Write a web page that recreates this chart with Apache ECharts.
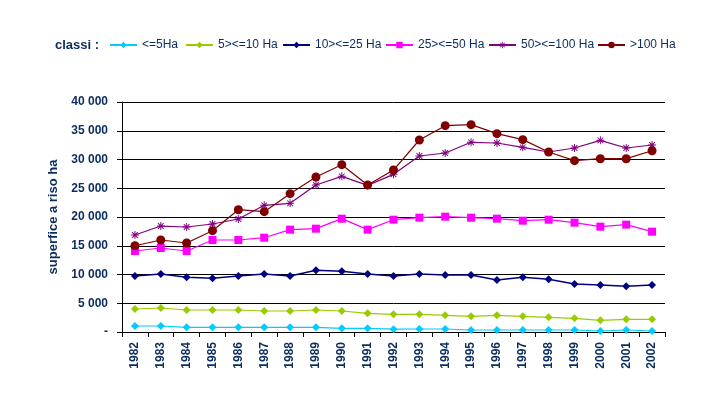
<!DOCTYPE html>
<html><head><meta charset="utf-8">
<script src="https://cdn.jsdelivr.net/npm/echarts@6/dist/echarts.min.js"></script>
<style>html,body{margin:0;padding:0;background:#fff}#c{width:707px;height:400px}</style>
</head><body><div id="c"></div>
<script>
const years = ['1982','1983','1984','1985','1986','1987','1988','1989','1990','1991','1992','1993','1994','1995','1996','1997','1998','1999','2000','2001','2002'];
const seriesNames = ['<=5Ha','5><=10 Ha','10><=25 Ha','25><=50 Ha','50><=100 Ha','>100 Ha'];
const s1 = [1040,1040,810,810,810,810,810,810,640,640,500,520,520,350,350,350,350,350,170,350,170];
const s2 = [4000,4170,3830,3830,3830,3650,3650,3830,3650,3250,3070,3070,2900,2720,2900,2720,2550,2380,2030,2200,2200];
const s3 = [9740,10090,9510,9340,9740,10090,9740,10730,10550,10090,9740,10090,9910,9910,9040,9510,9160,8350,8170,7940,8170];
const s4 = [14090,14610,14090,16000,16000,16400,17800,17970,19710,17800,19530,19880,20060,19880,19710,19360,19530,19010,18320,18670,17450];
const s5 = [16870,18430,18260,18780,19650,22030,22380,25570,27070,25500,27420,30610,31130,32990,32870,32120,31300,32000,33330,32000,32520];
const s6 = [15000,16000,15480,17620,21270,20930,24060,26960,29100,25570,28170,33390,35880,36060,34490,33450,31300,29800,30140,30140,31530];
const yTitle = 'superfice a riso ha';
const legendTitle = 'classi :';

const values = [s1,s2,s3,s4,s5,s6];
const colors = ['#00CCFF','#99CC00','#000080','#FF00FF','#800080','#800000'];
const star = 'path://M-0.6,-5 L0.6,-5 L0.6,5 L-0.6,5 Z M-5,-0.6 L5,-0.6 L5,0.6 L-5,0.6 Z M-3.1,-3.95 L3.95,3.1 L3.1,3.95 L-3.95,-3.1 Z M3.1,-3.95 L3.95,-3.1 L-3.1,3.95 L-3.95,3.1 Z';
const symbols = ['diamond','diamond','diamond','rect','path','circle'];
const sizes = [8,8,8,8,8,9];
const legendLefts = [109,185,282,385,488,597];
const navy = '#0A2C5E';

const series = values.map((v,i)=>({
  name: seriesNames[i], type:'line', data: v,
  symbol: symbols[i]==='path'?star:symbols[i], symbolSize: sizes[i], showAllSymbol:true,
  lineStyle:{color:colors[i], width: i===2?1.5:1.2},
  itemStyle:{color:colors[i]},
  animation:false
}));

const legends = seriesNames.map((n,i)=>({
  data:[n], left: legendLefts[i], top: 39, padding:0, itemWidth: 27, itemHeight: 8, itemGap: 2,
  textStyle:{color:navy, fontFamily:'Liberation Sans, Arial', fontSize:12}
}));

const chart = echarts.init(document.getElementById('c'));
chart.setOption({
  backgroundColor:'#fff',
  animation:false,
  title:{text:legendTitle, left:50, top:34, textStyle:{color:navy, fontFamily:'Liberation Sans, Arial', fontSize:13, fontWeight:'bold'}},
  legend: legends,
  grid:{left:122, right:42, top:102, bottom:68, containLabel:false},
  xAxis:{type:'category', data:years, boundaryGap:true,
    axisLine:{lineStyle:{color:'#000', width:1}},
    axisTick:{show:true, interval:0, length:5, lineStyle:{color:'#000'}},
    axisLabel:{interval:0, rotate:90, margin:10, color:navy, fontFamily:'Liberation Sans, Arial', fontSize:12, fontWeight:'bold'}
  },
  yAxis:{type:'value', min:0, max:40000, interval:5000,
    name:yTitle, nameLocation:'middle', nameRotate:90, nameGap:62,
    nameTextStyle:{color:navy, fontFamily:'Liberation Sans, Arial', fontSize:13, fontWeight:'bold'},
    axisLine:{show:true, lineStyle:{color:'#000', width:1}},
    axisTick:{show:true, length:5, lineStyle:{color:'#000'}},
    splitLine:{show:true, lineStyle:{color:'#000', width:1}},
    axisLabel:{margin:14, color:navy, fontFamily:'Liberation Sans, Arial', fontSize:12, fontWeight:'bold',
      formatter:v=> v===0?'-':String(v).replace(/\B(?=(\d{3})+(?!\d))/g,' ')}
  },
  series: series
});
</script></body></html>
